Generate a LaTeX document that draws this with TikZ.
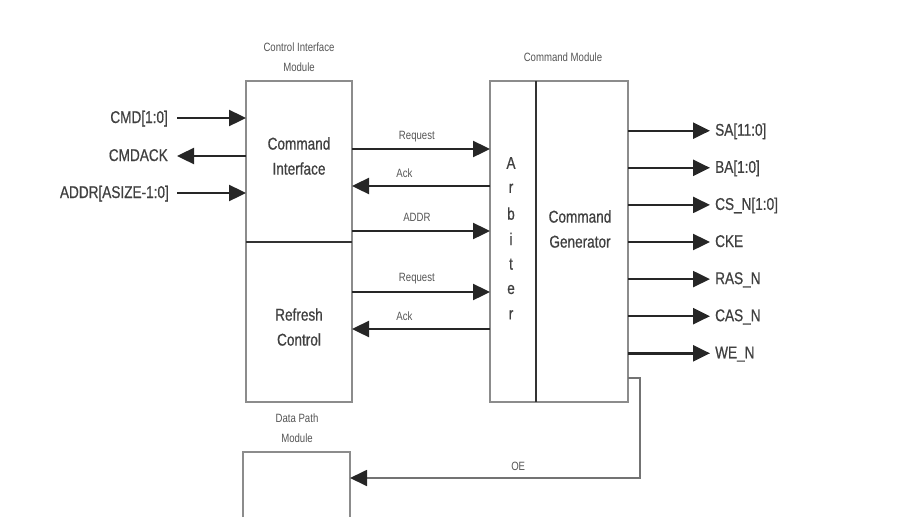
\documentclass[tikz,border=0pt]{standalone}
\usepackage{fontspec}
\setmainfont{Liberation Sans}[FakeStretch=0.8]
\newfontfamily\sigfont{Liberation Sans}[FakeStretch=0.8,FakeBold=0.7]
\usetikzlibrary{arrows.meta}
\definecolor{boxgray}{HTML}{8C8C8C}
\definecolor{txtgray}{HTML}{404040}
\definecolor{smallgray}{HTML}{555555}
\begin{document}
\begin{tikzpicture}[x=1pt,y=-1pt,line join=miter,
	bigtxt/.style={text=txtgray,font=\sigfont\fontsize{17}{25}\selectfont,align=center,inner sep=0pt},
	sigtxt/.style={text=txtgray,font=\sigfont\fontsize{17}{25}\selectfont,inner sep=0pt,text height=12pt,text depth=2pt},
	smalltxt/.style={text=smallgray,font=\fontsize{12}{19.5}\selectfont,align=center,inner sep=0pt},
	blk/.style={draw=boxgray,line width=1.6pt,inner sep=0pt,outer sep=0pt,anchor=north west},
	divider/.style={draw=black!80,line width=2.2pt},
	sig/.style={draw=black!85,line width=2.4pt,-{Triangle[length=17pt,width=16pt]}},
	oesig/.style={draw=black!55,line width=1.8pt,-{Triangle[length=17pt,width=16pt,color=black!85]}}]
	\useasboundingbox (0,0) rectangle (918,517);
	% blocks
	\node[blk,minimum width=106pt,minimum height=161pt] (cmdif) at (246,81) {};
	\node[blk,minimum width=106pt,minimum height=160pt] (refresh) at (246,242) {};
	\node[blk,minimum width=46pt,minimum height=321pt] (arb) at (490,81) {};
	\node[blk,minimum width=92pt,minimum height=321pt] (cmdgen) at (536,81) {};
	\node[inner sep=0pt,outer sep=0pt,anchor=north west,minimum width=107pt,minimum height=65pt] (datap) at (243,452) {};
	\draw[draw=boxgray,line width=1.6pt] (datap.south west) |- (datap.north east) -- (datap.south east);
	\draw[divider] (cmdif.south west) -- (cmdif.south east);
	\draw[divider] (arb.north east) -- (arb.south east);
	% texts
	\node[bigtxt] (cmdiftxt) at (299,156) {Command\\Interface};
	\node[bigtxt] (refreshtxt) at (299,327) {Refresh\\Control};
	\node[bigtxt] (cmdgentxt) at (580,229) {Command\\Generator};
	\foreach \ch [count=\i from 0] in {A,r,b,i,t,e,r}
		\node[bigtxt] (arb\i) at (511,163+25.3*\i) {\ch};
	\node[smalltxt] (ciflab) at (299,57) {Control Interface\\Module};
	\node[smalltxt] (cmdlab) at (563,57) {Command Module};
	\node[smalltxt] (dplab) at (297,428) {Data Path\\Module};
	% inputs
	\node[sigtxt,anchor=east] (cmd) at (168,118) {CMD[1:0]};
	\node[sigtxt,anchor=east] (cmdack) at (168,156) {CMDACK};
	\node[sigtxt,anchor=east] (addr) at (169,193) {ADDR[ASIZE-1:0]};
	\draw[sig,shorten <=9pt] (cmd.east) -- (cmd.east -| cmdif.west);
	\draw[sig,shorten >=9pt] (cmdack.east -| cmdif.west) -- (cmdack.east);
	\draw[sig,shorten <=8pt] (addr.east) -- (addr.east -| cmdif.west);
	% to arbiter
	\draw[sig] (cmdif.east |- 0,149) -- node[smalltxt,pos=0.47,yshift=12pt] (req1) {Request} (arb.west |- 0,149);
	\draw[sig] (arb.west |- 0,186) -- node[smalltxt,pos=0.62,yshift=13pt] (ack1) {Ack} (cmdif.east |- 0,186);
	\draw[sig] (cmdif.east |- 0,231) -- node[smalltxt,pos=0.47,yshift=14pt] (addr1) {ADDR} (arb.west |- 0,231);
	\draw[sig] (refresh.east |- 0,292) -- node[smalltxt,pos=0.47,yshift=13pt] (req2) {Request} (arb.west |- 0,292);
	\draw[sig] (arb.west |- 0,329) -- node[smalltxt,pos=0.62,yshift=13pt] (ack2) {Ack} (refresh.east |- 0,329);
	% outputs
	\foreach \lab [count=\i from 0] in {SA[11:0],BA[1:0],CS\_N[1:0],CKE,RAS\_N,CAS\_N,WE\_N}
	{
		\node[sigtxt,anchor=west] (out\i) at (715,130.7+37.1*\i) {\lab};
		\draw[sig,shorten >=5pt] (cmdgen.east |- out\i.west) -- (out\i.west);
	}
	% OE
	\coordinate (oeturn) at (640,478);
	\draw[oesig] (cmdgen.east |- 0,378) -- (oeturn |- 0,378) -- (oeturn) -- node[smalltxt,pos=0.42,yshift=12pt] (oe) {OE} (datap.east |- oeturn);
\end{tikzpicture}
\end{document}
